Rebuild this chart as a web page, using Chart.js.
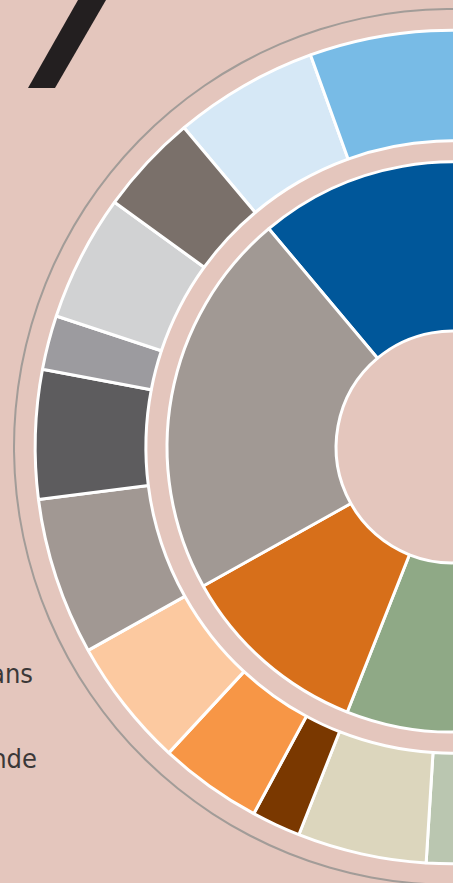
<!DOCTYPE html>
<html lang="nl">
<head>
<meta charset="utf-8">
<title>Sunburst</title>
<script src="https://cdn.jsdelivr.net/npm/chart.js@4.4.1/dist/chart.umd.min.js"></script>
<style>
    html, body {
        margin: 0;
        padding: 0;
        overflow: hidden;
        background: #e4c6bd;
    }
    .page {
        position: relative;
        width: 453px;
        height: 883px;
        overflow: hidden;
        background: #e4c6bd;
    }
    .page canvas {
        position: absolute;
        left: 0;
        top: 0;
    }
    .slash {
        position: absolute;
        left: 0;
        top: 0;
        width: 110px;
        height: 88px;
        background: #231f20;
        clip-path: polygon(78px 0, 106px 0, 55px 88px, 28px 88px);
    }
    .side-label {
        position: absolute;
        font-family: "Liberation Sans Narrow", "DejaVu Sans Condensed", sans-serif;
        font-size: 27px;
        line-height: 27px;
        color: #3b3838;
        white-space: nowrap;
        text-align: right;
    }
</style>
</head>
<body>
<div class="page">
    <div class="slash"></div>
    <div class="side-label" style="right: 420px; top: 660px;">Frans</div>
    <div class="side-label" style="right: 416px; top: 745px;">Onbekende</div>
    <canvas id="sunburst" width="904" height="894"></canvas>
</div>

<script>
// inner ring: main groups (percent), clockwise from the start angle
const groupLabels = ['Blauw', 'Groen', 'Oranje', 'Grijs'];
const groupValues = [33.3, 33.8, 10.9, 22.0];

// outer ring: sub groups, same order as the groups above
const subLabels = [
    'Blauw 1', 'Blauw 2', 'Blauw 3',
    'Groen 1', 'Groen 2', 'Groen 3', 'Groen 4',
    'Oranje 1', 'Oranje 2', 'Oranje 3',
    'Grijs 1', 'Grijs 2', 'Grijs 3', 'Grijs 4', 'Grijs 5'
];
const subValues = [
    5.6, 9.4, 18.3,
    12.0, 11.2, 5.6, 5.0,
    1.9, 4.0, 5.0,
    6.1, 5.0, 2.1, 4.9, 3.9
];

(function() {
    'use strict';

    const groupColors = ['#00579a', '#8fa986', '#d76f1a', '#a19994'];
    const subColors = [
        '#d6e8f6', '#78bbe6', '#3f8ccb',
        '#6f8f64', '#a6b78f', '#bac6b0', '#dcd6bd',
        '#7a3800', '#f79646', '#fcc9a0',
        '#a19893', '#5d5c5e', '#9c9b9f', '#d1d2d3', '#7a706a'
    ];

    const Sunburst = {
        init: function() {
            const ctx = document.getElementById('sunburst');
            new Chart(ctx, {
                type: 'doughnut',
                data: {
                    labels: subLabels,
                    datasets: this.buildDatasets()
                },
                options: {
                    responsive: false,
                    animation: false,
                    events: [],
                    rotation: 320,
                    radius: 439,
                    cutout: 118,
                    layout: { padding: 0 },
                    plugins: {
                        legend: { display: false },
                        tooltip: { enabled: false }
                    }
                }
            });
        },

        // outermost first: thin grey circle, gap, sub ring, gap, group ring
        buildDatasets: function() {
            return [
                {
                    label: 'rand',
                    data: [1],
                    backgroundColor: '#a29c98',
                    borderWidth: 0,
                    weight: 2
                },
                this.gap(20),
                {
                    label: 'Subgroepen',
                    data: subValues,
                    backgroundColor: subColors,
                    borderColor: '#ffffff',
                    borderWidth: 3,
                    weight: 110
                },
                this.gap(21),
                {
                    label: 'Groepen',
                    data: groupValues,
                    backgroundColor: groupColors,
                    borderColor: '#ffffff',
                    borderWidth: 3,
                    weight: 168
                }
            ];
        },

        gap: function(weight) {
            return {
                label: 'gap',
                data: [1],
                backgroundColor: 'rgba(0,0,0,0)',
                borderWidth: 0,
                weight: weight
            };
        }
    };

    Sunburst.init();
})();
</script>
</body>
</html>
